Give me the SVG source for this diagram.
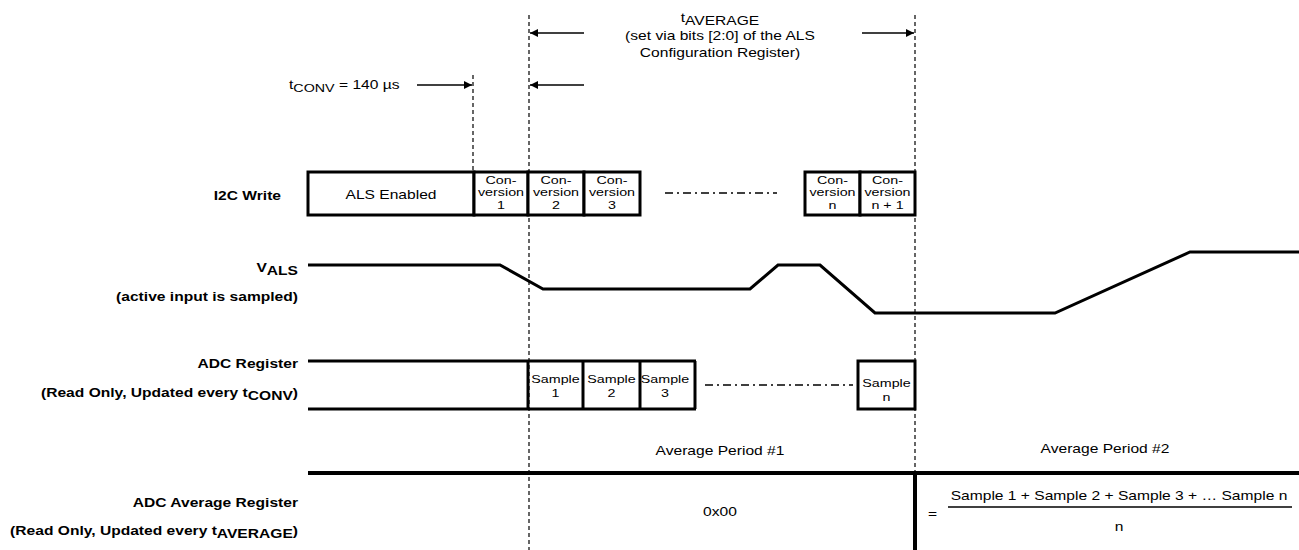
<svg xmlns="http://www.w3.org/2000/svg" width="1299" height="550" viewBox="0 0 1299 550">
<style>
text{font-family:"Liberation Sans",Arial,sans-serif;fill:#000}
.lb{font-size:12px;font-weight:bold;text-anchor:end}
.t{font-size:12px}
.c{text-anchor:middle}
.sm{font-size:11px;text-anchor:middle}
.thick{stroke:#000;stroke-width:3;fill:none}
.box{stroke:#000;stroke-width:3;fill:#fff}
.dash{stroke:#000;stroke-width:1.2;stroke-dasharray:4,3;fill:none}
.dd{stroke:#000;stroke-width:1.3;stroke-dasharray:8,4,2,4;fill:none}
.arr{stroke:#000;stroke-width:1.4;fill:none;marker-end:url(#ah)}
</style>
<defs>
<marker id="ah" viewBox="0 0 10 10" refX="10" refY="5" markerWidth="9" markerHeight="8" markerUnits="userSpaceOnUse" orient="auto"><path d="M0,0 L10,5 L0,10 z" fill="#000"/></marker>
</defs>
<rect width="1299" height="550" fill="#fff"/>

<g id="connectors">
<line class="dash" x1="529" y1="15" x2="529" y2="550"/>
<line class="dash" x1="915" y1="15" x2="915" y2="473"/>
<line class="dash" x1="473" y1="75" x2="473" y2="172"/>
<line class="arr" x1="584" y1="33" x2="530" y2="33"/>
<line class="arr" x1="862" y1="33" x2="914" y2="33"/>
<line class="arr" x1="584" y1="85" x2="530" y2="85"/>
<line class="arr" x1="417" y1="85" x2="472" y2="85"/>
</g>

<g id="t-average">
<text class="t c" transform="translate(720,22) scale(1.3,1)"><tspan>t</tspan><tspan dy="3">AVERAGE</tspan></text>
<text class="t c" transform="translate(720,40) scale(1.3,1)">(set via bits [2:0] of the ALS</text>
<text class="t c" transform="translate(720,57) scale(1.3,1)">Configuration Register)</text>
</g>
<g id="t-conv">
<text class="t" transform="translate(289,89) scale(1.3,1)"><tspan>t</tspan><tspan font-size="11" dy="3">CONV</tspan><tspan dy="-3"> = 140 µs</tspan></text>
</g>

<g id="i2c-write">
<text class="lb" transform="translate(281,200) scale(1.3,1)">I2C Write</text>
<rect class="box" x="308" y="172" width="166" height="43"/>
<text class="t c" transform="translate(391,199) scale(1.3,1)" font-size="11.5">ALS Enabled</text>
<g id="conv1"><rect class="box" x="474" y="172" width="54" height="43"/>
<text class="sm" transform="translate(501,0) scale(1.3,1)"><tspan x="0" y="184">Con-</tspan><tspan x="0" y="196">version</tspan><tspan x="0" y="209">1</tspan></text></g>
<g id="conv2"><rect class="box" x="528" y="172" width="56" height="43"/>
<text class="sm" transform="translate(556,0) scale(1.3,1)"><tspan x="0" y="184">Con-</tspan><tspan x="0" y="196">version</tspan><tspan x="0" y="209">2</tspan></text></g>
<g id="conv3"><rect class="box" x="584" y="172" width="56" height="43"/>
<text class="sm" transform="translate(612,0) scale(1.3,1)"><tspan x="0" y="184">Con-</tspan><tspan x="0" y="196">version</tspan><tspan x="0" y="209">3</tspan></text></g>
<line class="dd" x1="665" y1="193" x2="777" y2="193"/>
<g id="convn"><rect class="box" x="805" y="172" width="55" height="43"/>
<text class="sm" transform="translate(832.5,0) scale(1.3,1)"><tspan x="0" y="184">Con-</tspan><tspan x="0" y="196">version</tspan><tspan x="0" y="209">n</tspan></text></g>
<g id="convn1"><rect class="box" x="860" y="172" width="55" height="43"/>
<text class="sm" transform="translate(887.5,0) scale(1.3,1)"><tspan x="0" y="184">Con-</tspan><tspan x="0" y="196">version</tspan><tspan x="0" y="209">n + 1</tspan></text></g>
</g>

<g id="vals">
<text class="lb" transform="translate(298,272) scale(1.3,1)"><tspan>V</tspan><tspan dy="3">ALS</tspan></text>
<text class="lb" transform="translate(298,301) scale(1.3,1)">(active input is sampled)</text>
<polyline class="thick" points="308,265 500,265 543,289 750,289 778,265 820,265 875,313 1055,313 1190,252 1299,252"/>
</g>

<g id="adc-register">
<text class="lb" transform="translate(298,368) scale(1.3,1)">ADC Register</text>
<text class="lb" transform="translate(298,397) scale(1.3,1)"><tspan>(Read Only, Updated every t</tspan><tspan dy="3">CONV</tspan><tspan dy="-3">)</tspan></text>
<line class="thick" x1="308" y1="361" x2="696" y2="361"/>
<line class="thick" x1="308" y1="409" x2="696" y2="409"/>
<line class="thick" x1="528" y1="361" x2="528" y2="409"/>
<line class="thick" x1="583" y1="361" x2="583" y2="409"/>
<line class="thick" x1="640" y1="361" x2="640" y2="409"/>
<line class="thick" x1="695" y1="361" x2="695" y2="409"/>
<text class="sm" transform="translate(555.5,0) scale(1.3,1)"><tspan x="0" y="383">Sample</tspan><tspan x="0" y="397">1</tspan></text>
<text class="sm" transform="translate(611.5,0) scale(1.3,1)"><tspan x="0" y="383">Sample</tspan><tspan x="0" y="397">2</tspan></text>
<text class="sm" transform="translate(665,0) scale(1.3,1)"><tspan x="0" y="383">Sample</tspan><tspan x="0" y="397">3</tspan></text>
<line class="dd" x1="705" y1="385" x2="853" y2="385"/>
<rect class="box" x="858" y="361" width="57" height="48"/>
<text class="sm" transform="translate(886.5,0) scale(1.3,1)"><tspan x="0" y="387">Sample</tspan><tspan x="0" y="401">n</tspan></text>
</g>

<g id="adc-average">
<text class="lb" transform="translate(298,507) scale(1.3,1)">ADC Average Register</text>
<text class="lb" transform="translate(298,535) scale(1.3,1)"><tspan>(Read Only, Updated every t</tspan><tspan dy="3">AVERAGE</tspan><tspan dy="-3">)</tspan></text>
<line x1="308" y1="473" x2="1299" y2="473" stroke="#000" stroke-width="4"/>
<line x1="915" y1="471" x2="915" y2="550" stroke="#000" stroke-width="4"/>
<text class="t c" transform="translate(720,455) scale(1.3,1)">Average Period #1</text>
<text class="t c" transform="translate(1105,453) scale(1.3,1)">Average Period #2</text>
<text class="t c" transform="translate(720,516) scale(1.3,1)">0x00</text>
<text class="t" transform="translate(928,518) scale(1.3,1)">=</text>
<text class="t c" transform="translate(1119,500) scale(1.3,1)">Sample 1 + Sample 2 + Sample 3 + … Sample n</text>
<line x1="948" y1="507" x2="1292" y2="507" stroke="#000" stroke-width="1.3"/>
<text class="t c" transform="translate(1119,531) scale(1.3,1)">n</text>
</g>
</svg>
